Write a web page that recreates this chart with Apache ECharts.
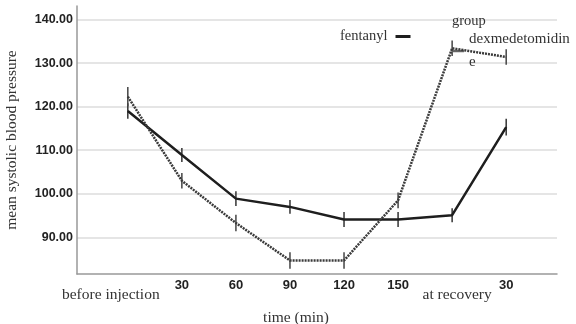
<!DOCTYPE html>
<html>
<head>
<meta charset="utf-8">
<script src="https://cdn.jsdelivr.net/npm/echarts@6/dist/echarts.min.js"></script>
<style>html,body{margin:0;padding:0;background:#fff}#c{width:576px;height:324px}</style>
</head>
<body>
<div id="c"></div>
<script>
const categories = ['before injection', '30', '60', '90', '120', '150', 'at recovery', '30'];
const fentanyl = [119.0, 108.9, 98.9, 97.0, 94.1, 94.1, 95.1, 115.3];
const fentanylErr = [1.8, 1.6, 1.7, 1.6, 1.7, 1.7, 1.6, 1.9];
const dexmedetomidine = [122.3, 103.0, 93.3, 84.7, 84.7, 98.5, 133.4, 131.4];
const dexmedetomidineErr = [2.2, 1.8, 1.9, 1.9, 1.9, 1.8, 1.8, 1.8];
const yTicks = [90, 100, 110, 120, 130, 140];
const xIdx = categories.map((c, i) => i);

const serif = '"Liberation Serif", "DejaVu Serif", serif';
const sans = '"Liberation Sans", Arial, sans-serif';

function pairs(vals) { return vals.map((v, i) => [i, v]); }
function errData(vals, errs) { return vals.map((v, i) => [i, v - errs[i], v + errs[i]]); }
function errSeries(name, vals, errs, color) {
  return {
    type: 'custom', name: name + '_err', silent: true, z: 3,
    renderItem: function (params, api) {
      const p1 = api.coord([api.value(0), api.value(1)]);
      const p2 = api.coord([api.value(0), api.value(2)]);
      return { type: 'line', shape: { x1: p1[0], y1: p1[1], x2: p2[0], y2: p2[1] },
        style: { stroke: color, lineWidth: 1.5 } };
    },
    encode: { x: 0, y: [1, 2] },
    data: errData(vals, errs)
  };
}

const chart = echarts.init(document.getElementById('c'), null, { renderer: 'canvas' });
chart.setOption({
  animation: false,
  backgroundColor: '#fff',
  grid: { left: 77, right: 19, top: 6, bottom: 50, containLabel: false, outerBoundsMode: 'none' },
  title: { text: 'group', left: 447, top: 9,
    textStyle: { fontFamily: serif, fontSize: 14.5, fontWeight: 'normal', color: '#333' } },
  legend: [
    { data: ['fentanyl'], left: 335, top: 24, align: 'right', icon: 'rect', itemWidth: 15, itemHeight: 3,
      itemStyle: { color: '#1e1e1e' },
      textStyle: { fontFamily: serif, fontSize: 14.5, color: '#333', padding: [0, 3, 0, 0] } },
    { data: ['dexmedetomidine'], left: 447, top: 23, icon: 'rect', itemWidth: 12, itemHeight: 2.5, itemGap: 2,
      itemStyle: { color: '#666' },
      formatter: function () { return 'dexmedetomidin\ne'; },
      textStyle: { fontFamily: serif, fontSize: 15, color: '#333', lineHeight: 23 } }
  ],
  xAxis: {
    type: 'value', min: -0.94, max: 7.94,
    name: 'time (min)', nameLocation: 'middle', nameGap: 36,
    nameTextStyle: { fontFamily: serif, fontSize: 15.5, color: '#333', padding: [0, 42, 0, 0] },
    axisLine: { show: true, onZero: false, lineStyle: { color: '#999', width: 1.5 } },
    axisTick: { show: false },
    splitLine: { show: false },
    axisLabel: {
      customValues: xIdx, margin: 5,
      formatter: function (v) {
        const c = categories[Math.round(v)];
        if (c === 'before injection') return '{w1|' + c + '}';
        if (c === 'at recovery') return '{w2|' + c + '}';
        return '{n|' + c + '}';
      },
      rich: {
        n: { fontFamily: sans, fontWeight: 'bold', fontSize: 13, color: '#222' },
        w1: { fontFamily: serif, fontSize: 15.5, color: '#333', padding: [8, 34, 0, 0] },
        w2: { fontFamily: serif, fontSize: 15.5, color: '#333', padding: [8, 0, 0, 10] }
      }
    }
  },
  yAxis: {
    type: 'value', min: 81.6, max: 143.1,
    name: 'mean systolic blood pressure', nameLocation: 'middle', nameGap: 57,
    nameTextStyle: { fontFamily: serif, fontSize: 15.5, color: '#333' },
    axisLine: { show: true, onZero: false, lineStyle: { color: '#999', width: 1.5 } },
    axisTick: { show: false, customValues: yTicks },
    splitLine: { show: true, lineStyle: { color: '#dcdcdc', width: 1.5 } },
    axisLabel: {
      customValues: yTicks, margin: 4,
      formatter: function (v) { return v.toFixed(2); },
      fontFamily: sans, fontWeight: 'bold', fontSize: 12.5, color: '#222'
    }
  },
  series: [
    { type: 'line', name: 'fentanyl', data: pairs(fentanyl), symbol: 'none', z: 4,
      lineStyle: { color: '#1e1e1e', width: 2.5 }, itemStyle: { color: '#1e1e1e' } },
    { type: 'line', name: 'dexmedetomidine', data: pairs(dexmedetomidine), symbol: 'none', z: 4,
      lineStyle: { color: '#3a3a3a', width: 2.5, type: [2, 1] }, itemStyle: { color: '#666' } },
    errSeries('fentanyl', fentanyl, fentanylErr, '#333'),
    errSeries('dexmedetomidine', dexmedetomidine, dexmedetomidineErr, '#444')
  ]
});
</script>
</body>
</html>
